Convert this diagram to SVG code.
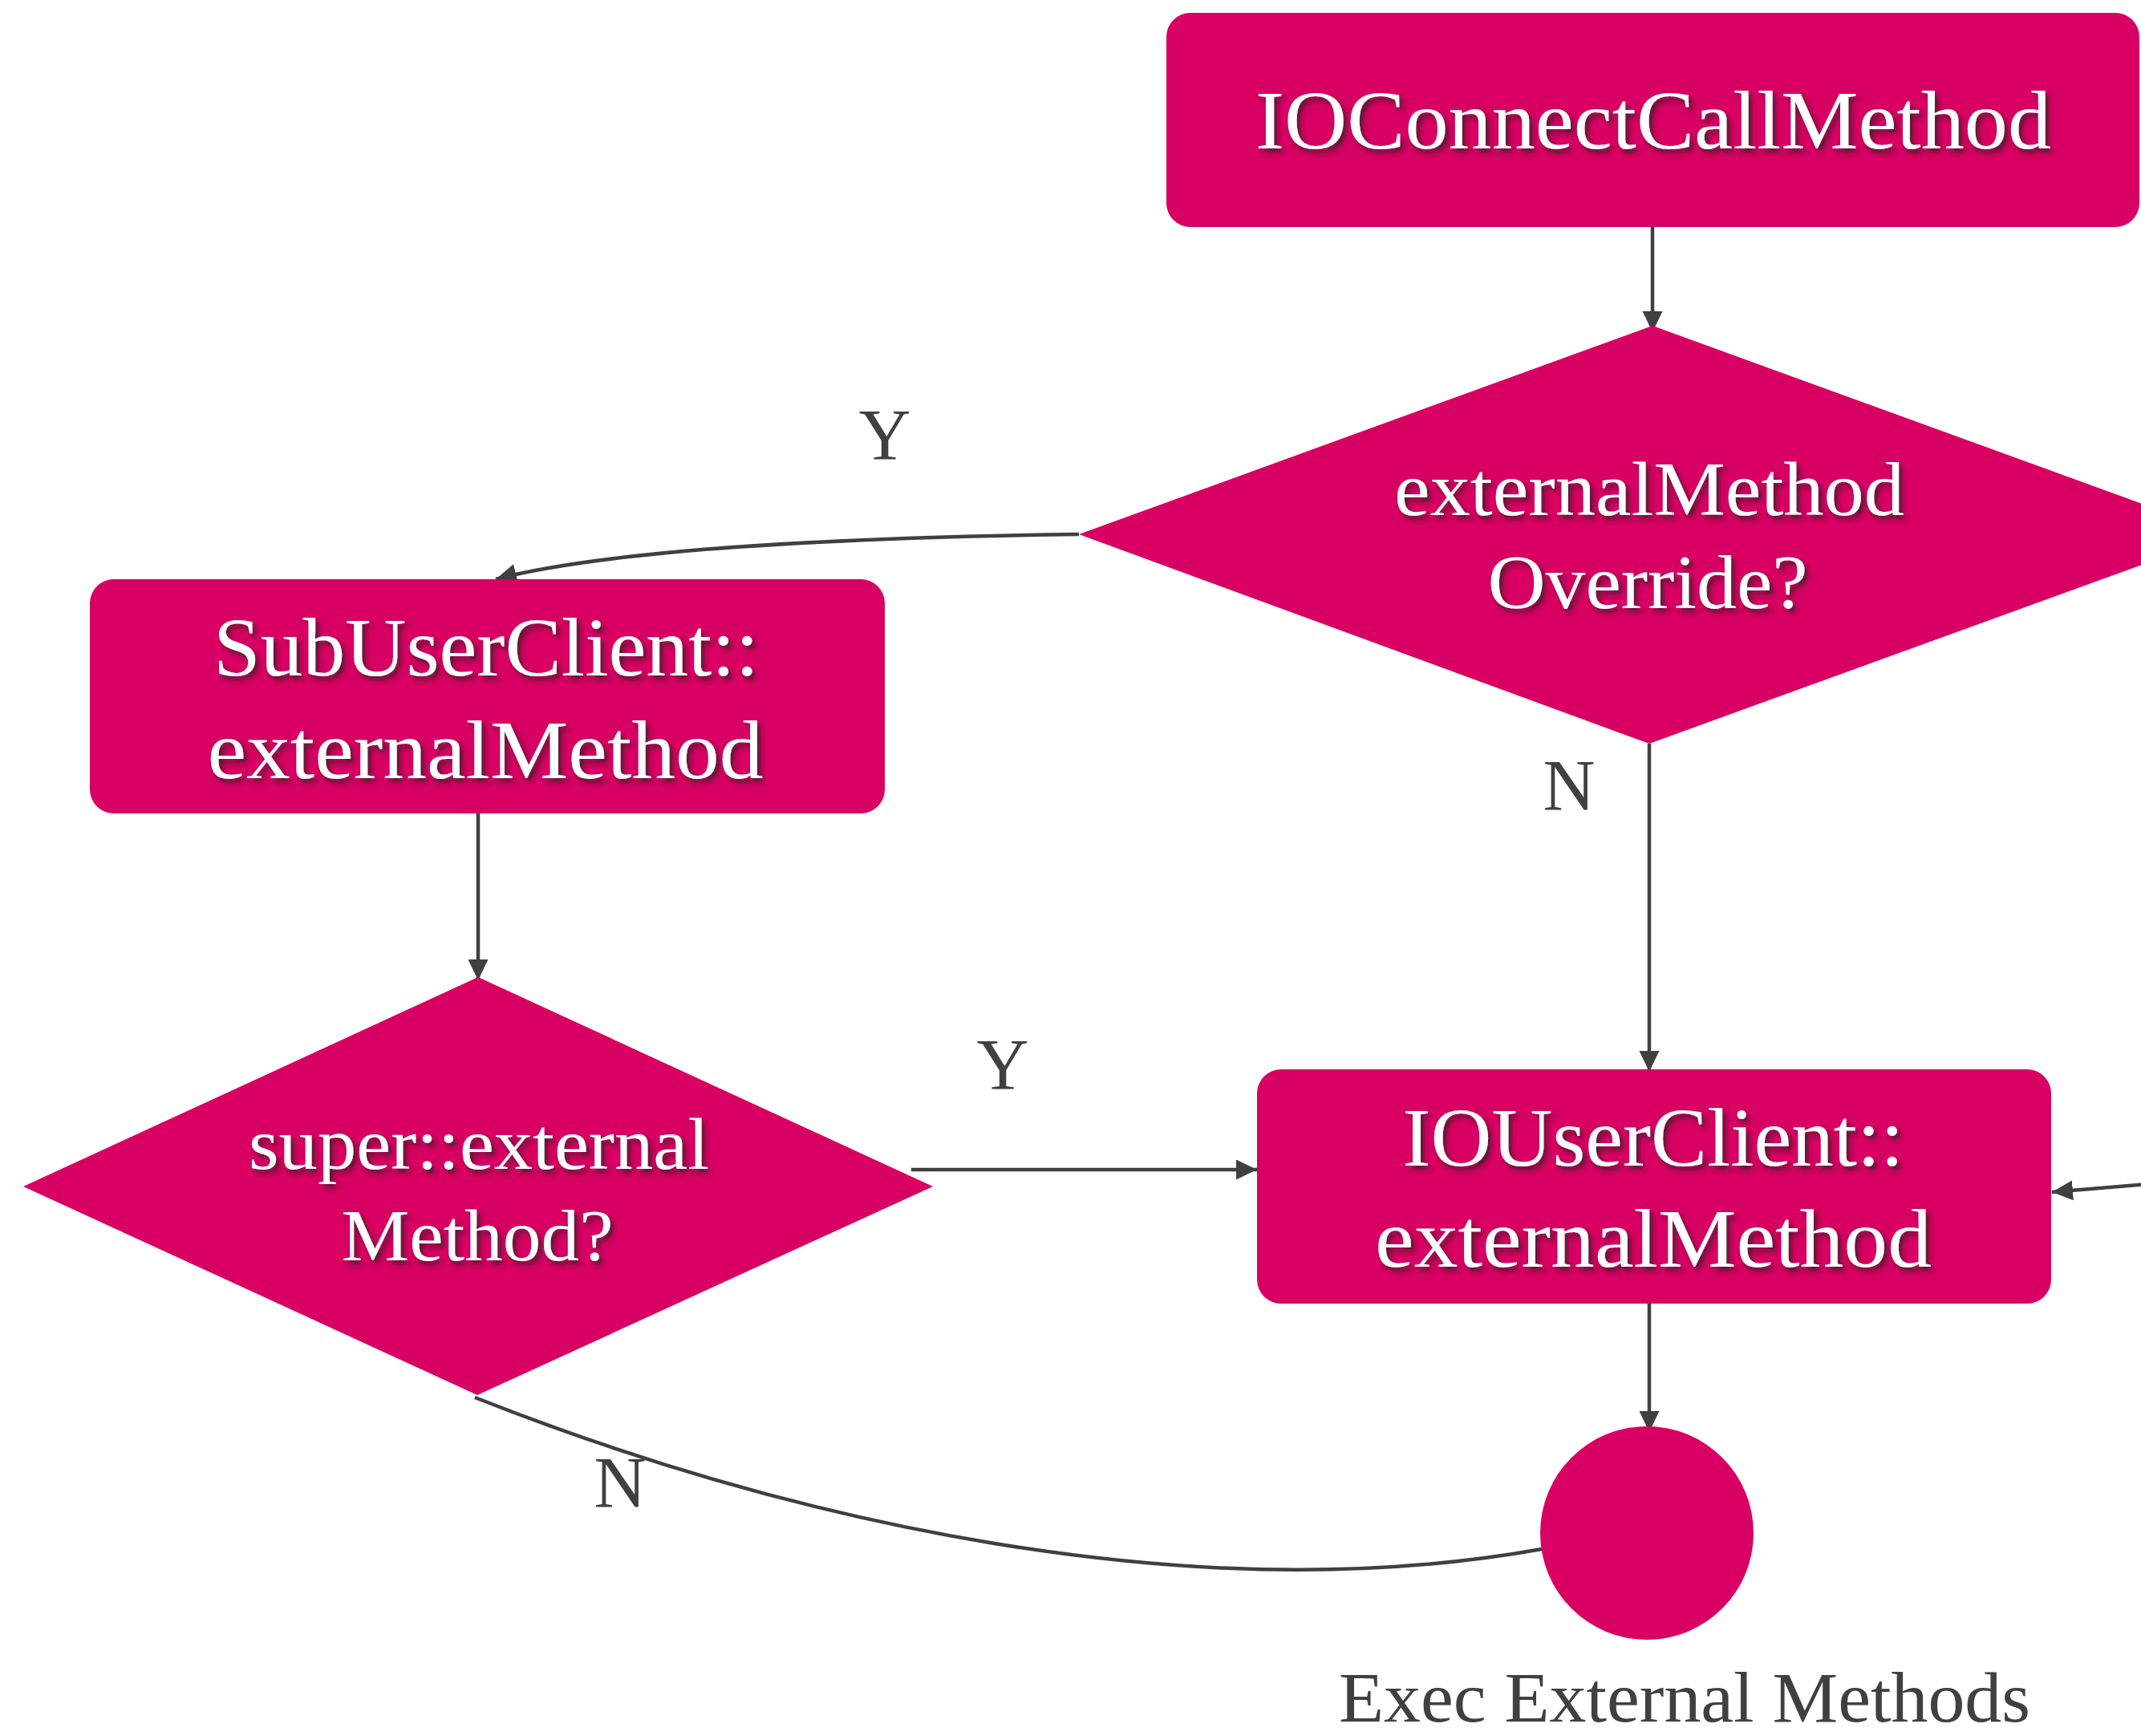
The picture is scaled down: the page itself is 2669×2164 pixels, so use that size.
<svg xmlns="http://www.w3.org/2000/svg" width="2669" height="2164" viewBox="0 0 2669 2164">
  <style>
    .node { fill: #D90063; }
    .label { font-family: "Liberation Serif", "Times New Roman", serif; fill: #ffffff; text-anchor: middle; filter: url(#textShadow); }
    .edge { fill: none; stroke: #404040; stroke-width: 4.5; }
    .edge-label { font-family: "Liberation Serif", "Times New Roman", serif; fill: #404040; text-anchor: middle; font-size: 90px; }
  </style>
  <defs>
    <filter id="textShadow" x="-10%" y="-30%" width="120%" height="160%">
      <feDropShadow dx="4" dy="5" stdDeviation="3" flood-color="#3a1a28" flood-opacity="0.85"/>
    </filter>
    <marker id="arrow" markerUnits="userSpaceOnUse" markerWidth="28" markerHeight="28" refX="26" refY="12.5" orient="auto">
      <path d="M0,0 L26,12.5 L0,25 z" fill="#404040"/>
    </marker>
  </defs>

  <rect width="2669" height="2164" fill="#ffffff"/>

  <!-- connectors -->
  <g id="connectors">
    <path class="edge" d="M2060,283 L2060,414" marker-end="url(#arrow)"/>
    <path class="edge" d="M1345,666 C1050,670 760,685 618,722" marker-end="url(#arrow)"/>
    <path class="edge" d="M2056,927 L2056,1336" marker-end="url(#arrow)"/>
    <path class="edge" d="M596,1014 L596,1222" marker-end="url(#arrow)"/>
    <path class="edge" d="M1136,1458 L1567,1458" marker-end="url(#arrow)"/>
    <path class="edge" d="M2690,1475 L2558,1486" marker-end="url(#arrow)"/>
    <path class="edge" d="M2056,1625 L2056,1785" marker-end="url(#arrow)"/>
    <path class="edge" d="M592,1742 C980,1895 1480,2010 1922,1931"/>
    <text class="edge-label" x="1103" y="573">Y</text>
    <text class="edge-label" x="1956" y="1010">N</text>
    <text class="edge-label" x="1250" y="1358">Y</text>
    <text class="edge-label" x="773" y="1879">N</text>
  </g>

  <!-- start box -->
  <g id="ioconnect">
    <rect class="node" x="1454" y="16" width="1213" height="267" rx="30" ry="30"/>
    <text class="label" x="2061" y="185" font-size="103" textLength="992" lengthAdjust="spacingAndGlyphs">IOConnectCallMethod</text>
  </g>

  <!-- override decision -->
  <g id="override-check">
    <polygon class="node" points="2060,406 2775,666 2056,927 1345,666"/>
    <text class="label" x="2056" y="642" font-size="95" textLength="636" lengthAdjust="spacingAndGlyphs">externalMethod</text>
    <text class="label" x="2054" y="758" font-size="95" textLength="399" lengthAdjust="spacingAndGlyphs">Override?</text>
  </g>

  <!-- subclass method -->
  <g id="sub-user-client">
    <rect class="node" x="112" y="722" width="991" height="292" rx="30" ry="30"/>
    <text class="label" x="606" y="842" font-size="104" textLength="680" lengthAdjust="spacingAndGlyphs">SubUserClient::</text>
    <text class="label" x="605" y="970" font-size="104" textLength="693" lengthAdjust="spacingAndGlyphs">externalMethod</text>
  </g>

  <!-- super call decision -->
  <g id="super-check">
    <polygon class="node" points="596,1218 1163,1479 595,1739 29,1479"/>
    <text class="label" x="597" y="1457" font-size="92" textLength="574" lengthAdjust="spacingAndGlyphs">super::external</text>
    <text class="label" x="595" y="1571" font-size="92" textLength="339" lengthAdjust="spacingAndGlyphs">Method?</text>
  </g>

  <!-- base class method -->
  <g id="io-user-client">
    <rect class="node" x="1567" y="1333" width="990" height="292" rx="30" ry="30"/>
    <text class="label" x="2061" y="1453" font-size="103" textLength="625" lengthAdjust="spacingAndGlyphs">IOUserClient::</text>
    <text class="label" x="2061" y="1579" font-size="103" textLength="694" lengthAdjust="spacingAndGlyphs">externalMethod</text>
  </g>

  <!-- end point -->
  <g id="exec-external">
    <circle class="node" cx="2053" cy="1911" r="133"/>
    <text class="edge-label" x="2100" y="2146" textLength="862" lengthAdjust="spacingAndGlyphs" style="font-size:88px">Exec External Methods</text>
  </g>
</svg>
